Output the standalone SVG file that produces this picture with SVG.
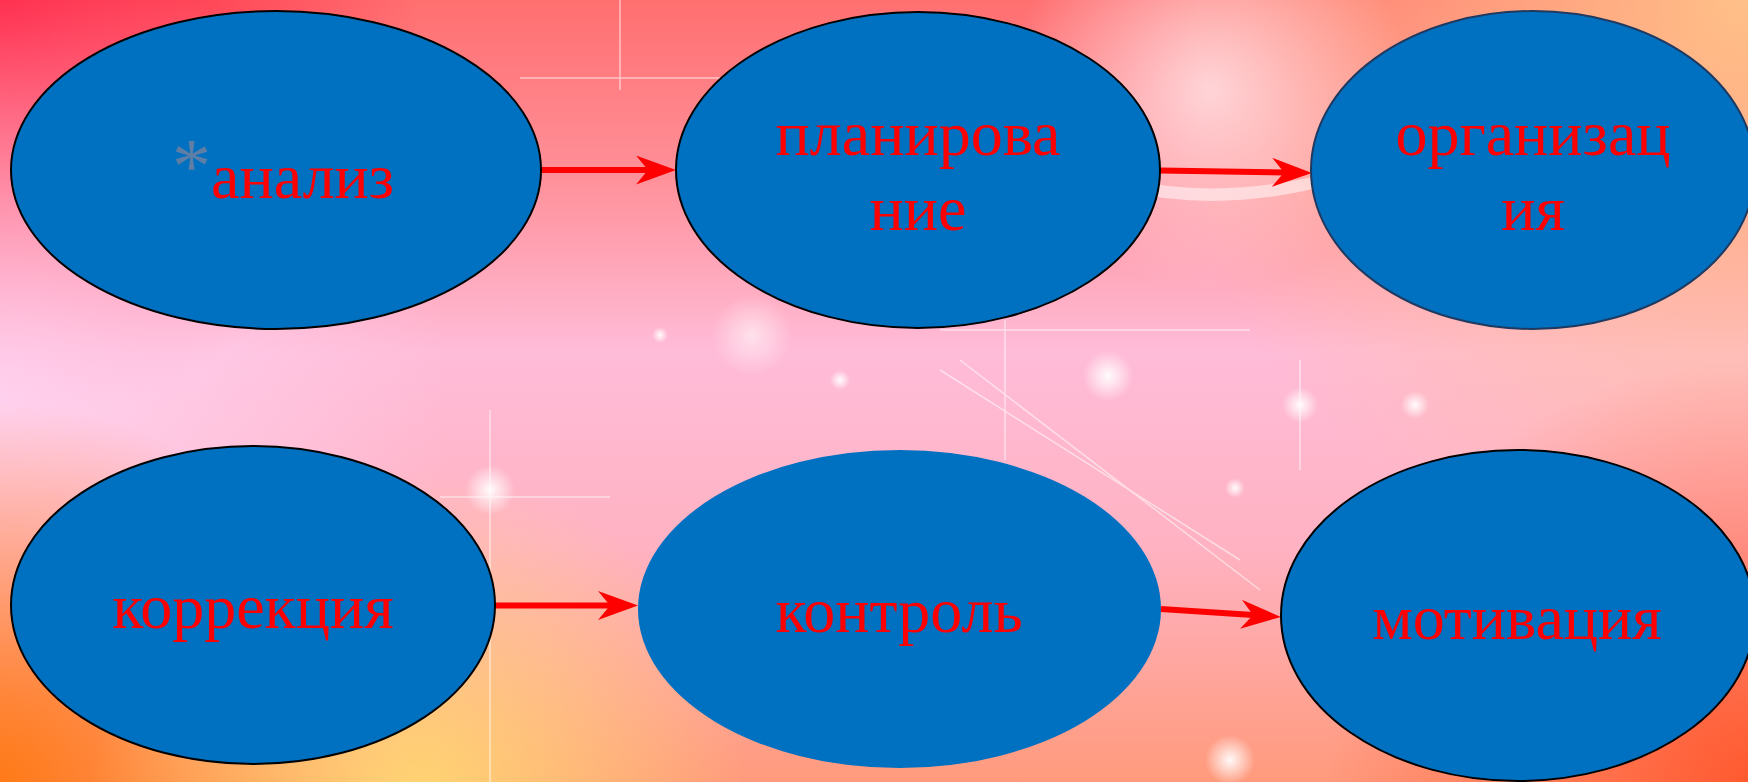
<svg xmlns="http://www.w3.org/2000/svg" width="1748" height="782" viewBox="0 0 1748 782">
<style>
.node ellipse{fill:#0070c0;stroke:#000;stroke-width:2}
.lbl{font-family:"Liberation Serif","Times New Roman",serif;font-size:64px;fill:#ff0000;text-anchor:middle}
.conn line{stroke:#ff0000;stroke-width:6;fill:none}
.spark{stroke:#fff;stroke-width:1.5;opacity:0.55}
</style>
<defs>
<linearGradient id="bg" x1="0" y1="0" x2="0" y2="1">
<stop offset="0" stop-color="#ff6f70"/>
<stop offset="0.22" stop-color="#ff8f98"/>
<stop offset="0.45" stop-color="#ffbcd8"/>
<stop offset="0.7" stop-color="#ffb2c2"/>
<stop offset="1" stop-color="#ff9a7c"/>
</linearGradient>
<radialGradient id="gTL" gradientUnits="userSpaceOnUse" cx="0" cy="0" r="420"><stop offset="0" stop-color="#ff2040"/><stop offset="1" stop-color="#ff2040" stop-opacity="0"/></radialGradient>
<radialGradient id="gTR" gradientUnits="userSpaceOnUse" cx="1748" cy="0" r="600"><stop offset="0" stop-color="#ffc088"/><stop offset="1" stop-color="#ffc088" stop-opacity="0"/></radialGradient>
<radialGradient id="gBL" gradientUnits="userSpaceOnUse" cx="0" cy="782" r="380"><stop offset="0" stop-color="#ff7a18"/><stop offset="1" stop-color="#ff7a18" stop-opacity="0"/></radialGradient>
<radialGradient id="gBY" gradientUnits="userSpaceOnUse" cx="420" cy="800" r="330"><stop offset="0" stop-color="#ffe070"/><stop offset="1" stop-color="#ffe070" stop-opacity="0"/></radialGradient>
<radialGradient id="gBR" gradientUnits="userSpaceOnUse" cx="1748" cy="782" r="420"><stop offset="0" stop-color="#ff5a30"/><stop offset="1" stop-color="#ff5a30" stop-opacity="0"/></radialGradient>
<radialGradient id="gML" gradientUnits="userSpaceOnUse" cx="0" cy="400" r="450"><stop offset="0" stop-color="#ffd8f6"/><stop offset="1" stop-color="#ffd8f6" stop-opacity="0"/></radialGradient>
<radialGradient id="gW" gradientUnits="userSpaceOnUse" cx="1210" cy="90" r="200"><stop offset="0" stop-color="#ffe8ec"/><stop offset="1" stop-color="#ffe8ec" stop-opacity="0"/></radialGradient>
<radialGradient id="glow" cx="0.5" cy="0.5" r="0.5"><stop offset="0" stop-color="#fff" stop-opacity="0.95"/><stop offset="1" stop-color="#fff" stop-opacity="0"/></radialGradient>
<marker id="ah" viewBox="0 0 40 29" refX="12" refY="14.5" markerWidth="40" markerHeight="29" markerUnits="userSpaceOnUse" orient="auto">
<path d="M0,0 L40,14.5 L0,29 L12,14.5 Z" fill="#ff0000"/>
</marker>
</defs>
<g id="background">
<rect width="1748" height="782" fill="url(#bg)"/>
<rect width="1748" height="782" fill="url(#gTL)"/>
<rect width="1748" height="782" fill="url(#gTR)"/>
<rect width="1748" height="782" fill="url(#gML)" opacity="0.8"/>
<rect width="1748" height="782" fill="url(#gW)" opacity="0.8"/>
<rect width="1748" height="782" fill="url(#gBL)"/>
<rect width="1748" height="782" fill="url(#gBY)" opacity="0.85"/>
<rect width="1748" height="782" fill="url(#gBR)"/>
<path d="M1040,150 Q1180,215 1340,170 L1340,182 Q1180,228 1040,162 Z" fill="#fff" opacity="0.5"/>
<circle cx="752" cy="335" r="40" fill="url(#glow)" opacity="0.6"/>
<circle cx="1108" cy="376" r="25" fill="url(#glow)"/>
<circle cx="1230" cy="760" r="25" fill="url(#glow)"/>
<circle cx="1300" cy="405" r="18" fill="url(#glow)"/>
<circle cx="490" cy="490" r="25" fill="url(#glow)"/>
<circle cx="1235" cy="488" r="10" fill="url(#glow)"/>
<circle cx="1415" cy="405" r="14" fill="url(#glow)"/>
<circle cx="660" cy="335" r="8" fill="url(#glow)"/>
<circle cx="840" cy="380" r="10" fill="url(#glow)"/>
<g class="spark">
<line x1="490" y1="410" x2="490" y2="782"/>
<line x1="440" y1="497" x2="610" y2="497"/>
<line x1="620" y1="0" x2="620" y2="90"/>
<line x1="520" y1="78" x2="870" y2="78"/>
<line x1="1005" y1="320" x2="1005" y2="460"/>
<line x1="940" y1="330" x2="1250" y2="330"/>
<line x1="1300" y1="360" x2="1300" y2="470"/>
<line x1="940" y1="370" x2="1240" y2="560"/>
<line x1="960" y1="360" x2="1260" y2="590"/>
</g>
</g>
<g id="connectors" class="conn">
<line x1="541" y1="170" x2="648" y2="170" marker-end="url(#ah)"/>
<line x1="1160" y1="170.5" x2="1284" y2="172.5" marker-end="url(#ah)"/>
<line x1="495" y1="605.5" x2="610" y2="605.5" marker-end="url(#ah)"/>
<line x1="1161" y1="609" x2="1253" y2="615.1" marker-end="url(#ah)"/>
</g>
<g id="node-analiz" class="node">
<ellipse cx="276" cy="170" rx="265" ry="159"/>
<text class="lbl" x="172" y="198" style="text-anchor:start"><tspan fill="#5e7ea6" font-size="78" dy="-6">*</tspan><tspan dy="6">анализ</tspan></text>
</g>
<g id="node-planirovanie" class="node">
<ellipse cx="918" cy="170" rx="242" ry="158"/>
<text class="lbl" x="918" y="155">планирова</text>
<text class="lbl" x="918" y="230">ние</text>
</g>
<g id="node-organizaciya" class="node">
<ellipse cx="1533" cy="170" rx="222" ry="159" style="stroke:#1f3a60"/>
<text class="lbl" x="1533" y="155">организац</text>
<text class="lbl" x="1533" y="230">ия</text>
</g>
<g id="node-korrekciya" class="node">
<ellipse cx="253" cy="605" rx="242" ry="159"/>
<text class="lbl" x="253" y="628">коррекция</text>
</g>
<g id="node-kontrol" class="node">
<ellipse cx="899.5" cy="609" rx="261.5" ry="159" style="stroke:none"/>
<text class="lbl" x="899" y="632">контроль</text>
</g>
<g id="node-motivaciya" class="node">
<ellipse cx="1518" cy="615.5" rx="237" ry="165.5"/>
<text class="lbl" x="1517" y="639">мотивация</text>
</g>
</svg>
